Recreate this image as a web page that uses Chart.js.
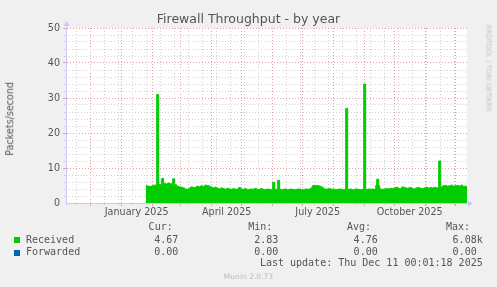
<!DOCTYPE html>
<html>
<head>
<meta charset="utf-8">
<title>Firewall Throughput - by year</title>
<script src="https://cdn.jsdelivr.net/npm/chart.js@4.4.1/dist/chart.umd.min.js"></script>
<style>
  html, body { margin: 0; padding: 0; background: #f0f0f0; }
  #wrap { position: relative; width: 497px; height: 287px; overflow: hidden; font-family: "DejaVu Sans", sans-serif; color: #555; }
  canvas { position: absolute; left: 0; top: 0; }
  .t { position: absolute; white-space: pre; line-height: 1; }
  .mono { font-family: "DejaVu Sans Mono", monospace; font-size: 10px; color: #555; }
  .sw { position: absolute; width: 6px; height: 6px; left: 14px; }
</style>
</head>
<body>
<div id="wrap">
  <canvas id="myChart" width="497" height="287"></canvas>
  <div class="t" style="left:0;width:497px;text-align:center;top:13.4px;font-size:12.5px;">Firewall Throughput - by year</div>
  <div class="t" style="left:-40.3px;width:100px;text-align:center;top:114.2px;font-size:9.6px;transform:rotate(-90deg);">Packets/second</div>
  <div class="t" style="left:437.5px;width:100px;text-align:center;top:64.6px;font-size:6.75px;color:#c4c4c4;transform:rotate(90deg);">RRDTOOL / TOBI OETIKER</div>
  <div class="t" style="left:0;width:497px;text-align:center;top:272.9px;font-size:7.55px;color:#bbb;">Munin 2.0.73</div>
  <div id="legend"></div>
</div>
<script>
// days counted from 1 Jan 2025, one rrd pixel per day
const receivedDays = [
  24, 26, 28, 30, 32, 35, 37, 39, 40, 42, 44, 46, 48, 50, 51, 53, 55, 57, 59,
  61, 63, 65, 67, 69, 71, 73, 75, 77, 79, 81, 83, 85, 87, 89, 91, 93, 95, 97,
  99, 101, 103, 105, 107, 109, 111, 113, 115, 117, 119, 121, 123, 125, 127,
  129, 131, 133, 135, 137, 139, 141, 143, 145, 147, 149, 151, 153, 155, 156,
  158, 160, 162, 164, 166, 168, 170, 172, 174, 176, 178, 180, 182, 184, 186,
  188, 190, 191, 193, 195, 197, 199, 201, 203, 205, 207, 209, 211, 213, 215,
  217, 219, 221, 224, 226, 228, 230, 232, 234, 236, 238, 240, 242, 244, 246,
  248, 250, 252, 254, 255, 257, 258, 260, 262, 264, 266, 268, 270, 272, 274,
  276, 278, 280, 282, 284, 286, 288, 290, 292, 294, 296, 298, 300, 302, 304,
  306, 308, 310, 312, 314, 317, 319, 321, 323, 325, 327, 329, 331, 333, 335,
  337, 339, 341, 343, 345.3,
];
const receivedValues = [
  4.9, 4.8, 4.7, 4.9, 5.1, 31, 5.3, 5.0, 7.0, 5.6, 5.4, 5.7, 5.5, 5.3, 6.9, 5.2, 4.8, 4.6, 4.5,
  4.3, 4.0, 3.9, 4.2, 4.6, 4.4, 4.5, 4.8, 4.6, 4.9, 4.7, 5.1, 5.0, 4.8, 4.5, 4.3, 4.5, 4.2, 4.0,
  4.3, 4.1, 3.9, 4.2, 4.0, 3.9, 4.1, 3.9, 4.0, 4.4, 4.0, 3.9, 4.1, 3.8, 3.9,
  4.0, 3.9, 4.2, 3.8, 3.9, 4.1, 3.9, 3.8, 4.0, 3.9, 3.8, 5.9, 3.9, 4.0, 6.5,
  3.9, 3.8, 4.0, 3.9, 3.8, 4.0, 3.9, 3.8, 3.9, 4.0, 3.9, 3.8, 3.9, 4.0, 3.9,
  4.1, 4.6, 5.0, 4.9, 5.0, 4.8, 4.6, 4.2, 3.9, 4.0, 4.1, 3.9, 4.0, 3.8, 3.9,
  4.0, 3.9, 3.8, 27, 3.9, 4.0, 3.8, 3.9, 4.0, 3.9, 3.8, 3.9, 34, 3.9, 4.0,
  3.9, 4.0, 3.9, 5.0, 6.8, 5.0, 4.0, 3.9, 4.0, 4.1, 4.0, 4.2, 4.1, 4.3, 4.5,
  4.2, 4.1, 4.6, 4.4, 4.2, 4.3, 4.4, 4.1, 4.0, 4.3, 4.4, 4.2, 4.1, 4.3, 4.5,
  4.2, 4.4, 4.3, 4.5, 4.3, 12, 4.6, 4.9, 5.0, 4.8, 4.9, 5.1, 4.8, 4.9, 5.0,
  4.8, 5.1, 4.7, 4.8, 4.67,
];
const forwardedDays = [24, 345.3];
const forwardedValues = [0, 0];

const monthStarts = [-31, 0, 31, 59, 90, 120, 151, 181, 212, 243, 273, 304, 334];
const labelDays = [15, 105, 196, 288];
const labelTexts = ["January 2025", "April 2025", "July 2025", "October 2025"];
const xMin = -55.7;
const xMax = 345.3;
const yMax = 50;

const seriesNames = ["Received", "Forwarded"];
const seriesColors = ["#00cc00", "#0066b3"];
const curValues = ["4.67", "0.00"];
const minValues = ["2.83", "0.00"];
const avgValues = ["4.76", "0.00"];
const maxValues = ["6.08k", "0.00"];
const lastUpdate = "Last update: Thu Dec 11 00:01:18 2025";

const majorGrid = "#e4a0a0";
const minorGrid = "#d2d2d2";
const axisColor = "#c8c8ff";

// minor vertical grid: every other Sunday
const minorDays = [];
for (let d = -45; d < xMax; d += 14) minorDays.push(d);

// legend, Munin style
const legend = document.getElementById("legend");
function addText(text, rightEdge, top) {
  const el = document.createElement("div");
  el.className = "t mono";
  el.style.right = (497 - rightEdge) + "px";
  el.style.top = top + "px";
  el.textContent = text;
  legend.appendChild(el);
}
addText("Cur:", 172.7, 222.2);
addText("Min:", 272.3, 222.2);
addText("Avg:", 371, 222.2);
addText("Max:", 470, 222.2);
seriesNames.forEach((name, i) => {
  const top = 234.8 + i * 12.4;
  const sw = document.createElement("div");
  sw.className = "sw";
  sw.style.top = (top + 2.4) + "px";
  sw.style.background = seriesColors[i];
  legend.appendChild(sw);
  const el = document.createElement("div");
  el.className = "t mono";
  el.style.left = "26px";
  el.style.top = top + "px";
  el.textContent = name;
  legend.appendChild(el);
  addText(curValues[i], 178.3, top);
  addText(minValues[i], 278.3, top);
  addText(avgValues[i], 377.7, top);
  addText(maxValues[i], maxValues[i].endsWith("k") ? 482.7 : 476.7, top);
});
addText(lastUpdate, 482.7, 258.2);

// white canvas behind the plot
const plotBackground = {
  id: "plotBackground",
  beforeDraw(chart) {
    const { ctx, chartArea: a } = chart;
    ctx.save();
    ctx.fillStyle = "#ffffff";
    ctx.fillRect(a.left, a.top, a.right - a.left, a.bottom - a.top);
    ctx.restore();
  },
};

// axis arrows like rrdtool
const axisArrows = {
  id: "axisArrows",
  afterDraw(chart) {
    const { ctx, chartArea: a } = chart;
    ctx.save();
    ctx.strokeStyle = axisColor;
    ctx.fillStyle = axisColor;
    ctx.lineWidth = 1;
    ctx.beginPath();
    ctx.moveTo(a.left + 0.5, a.bottom + 2);
    ctx.lineTo(a.left + 0.5, a.top - 4);
    ctx.moveTo(a.right, a.bottom + 0.5);
    ctx.lineTo(a.right + 3, a.bottom + 0.5);
    ctx.stroke();
    ctx.beginPath();
    ctx.moveTo(a.left - 2.5, a.top - 2);
    ctx.lineTo(a.left + 3.5, a.top - 2);
    ctx.lineTo(a.left + 0.5, a.top - 7);
    ctx.fill();
    ctx.beginPath();
    ctx.moveTo(a.right + 1, a.bottom - 2.5);
    ctx.lineTo(a.right + 1, a.bottom + 3.5);
    ctx.lineTo(a.right + 6, a.bottom + 0.5);
    ctx.fill();
    ctx.restore();
  },
};

const tickFont = { family: "DejaVu Sans", size: 9.6 };

const ctx = document.getElementById("myChart").getContext("2d");
const myChart = new Chart(ctx, {
  type: "line",
  data: {
    datasets: [
      {
        label: "Forwarded",
        data: forwardedDays.map((d, i) => ({ x: d, y: forwardedValues[i] })),
        borderColor: seriesColors[1],
        borderWidth: 1,
        pointRadius: 0,
        fill: false,
        order: 2,
      },
      {
        label: "Received",
        data: receivedDays.map((d, i) => ({ x: d, y: receivedValues[i] })),
        borderColor: seriesColors[0],
        backgroundColor: seriesColors[0],
        borderWidth: 1,
        pointRadius: 0,
        stepped: true,
        fill: "origin",
        order: 1,
      },
    ],
  },
  options: {
    responsive: false,
    animation: false,
    events: [],
    layout: { padding: { left: 0, top: 28, right: 30, bottom: 0 } },
    plugins: { legend: { display: false }, tooltip: { enabled: false } },
    scales: {
      x: {
        type: "linear",
        position: "bottom",
        weight: 1,
        min: xMin,
        max: xMax,
        afterBuildTicks(scale) {
          scale.ticks = monthStarts.concat(labelDays).sort((a, b) => a - b).map((v) => ({ value: v }));
        },
        afterFit(scale) { scale.height = 84; },
        grid: {
          color: (c) => (monthStarts.includes(c.tick.value) ? majorGrid : "transparent"),
          tickLength: 3,
        },
        border: { color: axisColor, dash: [1, 2] },
        ticks: {
          autoSkip: false,
          maxRotation: 0,
          padding: 1,
          font: tickFont,
          color: "#555",
          callback: (v) => {
            const i = labelDays.indexOf(v);
            return i >= 0 ? labelTexts[i] : "";
          },
        },
      },
      x2: {
        type: "linear",
        position: "bottom",
        weight: 0,
        min: xMin,
        max: xMax,
        afterBuildTicks(scale) {
          scale.ticks = minorDays.filter((d) => !monthStarts.includes(d)).map((v) => ({ value: v }));
        },
        afterFit(scale) { scale.height = 0; },
        grid: { color: minorGrid, tickLength: 2 },
        border: { display: false, dash: [1, 2] },
        ticks: { display: false },
      },
      y: {
        position: "left",
        weight: 1,
        min: 0,
        max: yMax,
        afterFit(scale) { scale.width = 66; },
        grid: {
          color: (c) => (c.tick.value === 0 ? "transparent" : majorGrid),
          tickLength: 3,
        },
        border: { color: axisColor, dash: [1, 2] },
        ticks: { stepSize: 10, padding: 3, font: tickFont, color: "#555" },
      },
      y2: {
        position: "left",
        weight: 0,
        min: 0,
        max: yMax,
        afterFit(scale) { scale.width = 0; },
        grid: {
          color: (c) => (c.tick.value % 10 === 0 ? "transparent" : minorGrid),
          tickLength: 2,
        },
        border: { display: false, dash: [1, 2] },
        ticks: { display: false, stepSize: 2 },
      },
    },
  },
  plugins: [plotBackground, axisArrows],
});
</script>
</body>
</html>
